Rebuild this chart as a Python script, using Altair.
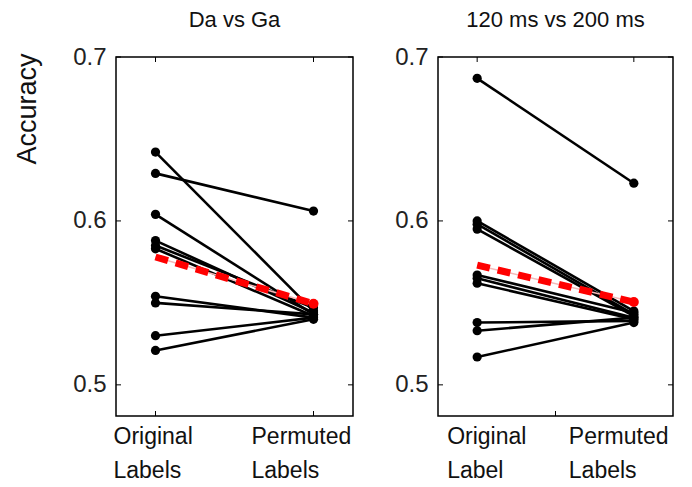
import altair as alt
import pandas as pd

FONT = "Liberation Sans"

# ---- data ----
positions = [1, 2]  # Original, Permuted
da_orig = [0.642, 0.629, 0.604, 0.588, 0.585, 0.583, 0.554, 0.550, 0.530, 0.521]
da_perm = [0.545, 0.606, 0.543, 0.544, 0.547, 0.542, 0.541, 0.543, 0.541, 0.540]
da_mean = [0.578, 0.5495]

ms_orig = [0.687, 0.600, 0.598, 0.595, 0.567, 0.565, 0.562, 0.538, 0.533, 0.517]
ms_perm = [0.623, 0.545, 0.543, 0.542, 0.544, 0.541, 0.540, 0.539, 0.541, 0.538]
ms_mean = [0.573, 0.5505]

y_ticks = [0.5, 0.6, 0.7]
da_labels = ["Original\nLabels", "Permuted\nLabels"]
ms_labels = ["Original\nLabel", "Permuted\nLabels"]

H = 359


def make_panel(orig, perm, mean, title, labels, label_dx, top_ticks, bottom_ticks,
               width, y_title):
    rows = []
    for i, (o, p) in enumerate(zip(orig, perm)):
        rows.append({"subject": i, "pos": positions[0], "acc": o})
        rows.append({"subject": i, "pos": positions[1], "acc": p})
    df = pd.DataFrame(rows)
    mdf = pd.DataFrame({"pos": positions, "acc": mean})

    xs = alt.X("pos:Q", scale=alt.Scale(domain=[0.75, 2.25], nice=False, zero=False), axis=None)
    if y_title:
        yaxis = alt.Axis(values=y_ticks, format=".1f", tickSize=0, labelPadding=10, domain=False,
                         grid=False, labelFontSize=24, labelFont=FONT, labelColor="#222",
                         title=y_title, titleFont=FONT, titleFontSize=27,
                         titleFontWeight="normal", titleColor="#111", titleAngle=270,
                         titleAlign="right", titleBaseline="alphabetic",
                         titleX=-81, titleY=-4)
    else:
        yaxis = alt.Axis(values=y_ticks, format=".1f", tickSize=0, labelPadding=10, domain=False,
                         grid=False, labelFontSize=24, labelFont=FONT, labelColor="#222",
                         title=None)
    ys = alt.Y("acc:Q", scale=alt.Scale(domain=[0.481, 0.7], nice=False, zero=False), axis=yaxis)
    ys_plain = alt.Y("acc:Q")

    lines = alt.Chart(df).mark_line(color="black", strokeWidth=2.6).encode(
        x=xs, y=ys, detail="subject:N")
    pts = alt.Chart(df).mark_circle(color="black", size=85, opacity=1).encode(x=xs, y=ys_plain)
    pink = alt.Chart(mdf).mark_line(color="#f5b8b8", strokeWidth=1.5).encode(x=xs, y=ys_plain)
    red = alt.Chart(mdf).mark_line(color="#ff0000", strokeWidth=7, strokeDash=[13, 8]).encode(
        x=xs, y=ys_plain)
    red_pt = alt.Chart(mdf).transform_filter(alt.datum.pos == 2).mark_circle(
        color="#ff0000", size=100, opacity=1).encode(x=xs, y=ys_plain)

    tdf = pd.DataFrame({"acc": y_ticks})
    lt = alt.Chart(tdf).mark_rule(color="black", strokeWidth=1).encode(
        y=ys_plain, x=alt.value(0), x2=alt.value(5))
    rt = alt.Chart(tdf).mark_rule(color="black", strokeWidth=1).encode(
        y=ys_plain, x=alt.value(width - 5), x2=alt.value(width))
    tt = alt.Chart(pd.DataFrame({"pos": top_ticks})).mark_rule(color="black", strokeWidth=1).encode(
        x=xs, y=alt.value(0), y2=alt.value(5))
    bt = alt.Chart(pd.DataFrame({"pos": bottom_ticks})).mark_rule(color="black", strokeWidth=1).encode(
        x=xs, y=alt.value(H - 5), y2=alt.value(H))

    texts = []
    for pos, lab, dx in zip(positions, labels, label_dx):
        texts.append(
            alt.Chart(pd.DataFrame({"pos": [pos], "label": [lab]})).mark_text(
                align="left", baseline="alphabetic", dx=dx, fontSize=23, font=FONT,
                lineBreak="\n", lineHeight=34, color="#111").encode(
                x=xs, y=alt.value(H + 28), text="label:N")
        )

    return alt.layer(lines, pts, pink, red, red_pt, lt, rt, tt, bt, *texts).properties(
        width=width, height=H,
        title=alt.TitleParams(title, fontSize=22, font=FONT, fontWeight="normal",
                              color="#111", offset=13, anchor="middle", frame="group"))


p1 = make_panel(da_orig, da_perm, da_mean, "Da vs Ga", da_labels, [-42, -62], [1, 2], [1, 2],
                237, "Accuracy")
p2 = make_panel(ms_orig, ms_perm, ms_mean, "120 ms vs 200 ms", ms_labels, [-30, -65], [1, 2], [1.5],
                235, None)

chart = alt.hconcat(p1, p2, spacing=38).properties(
    padding={"left": 4, "top": 0, "right": 0, "bottom": 0}
).configure_view(stroke="black", strokeWidth=1.5)

chart.save("out.html", embed_options={"renderer": "svg", "actions": False})
